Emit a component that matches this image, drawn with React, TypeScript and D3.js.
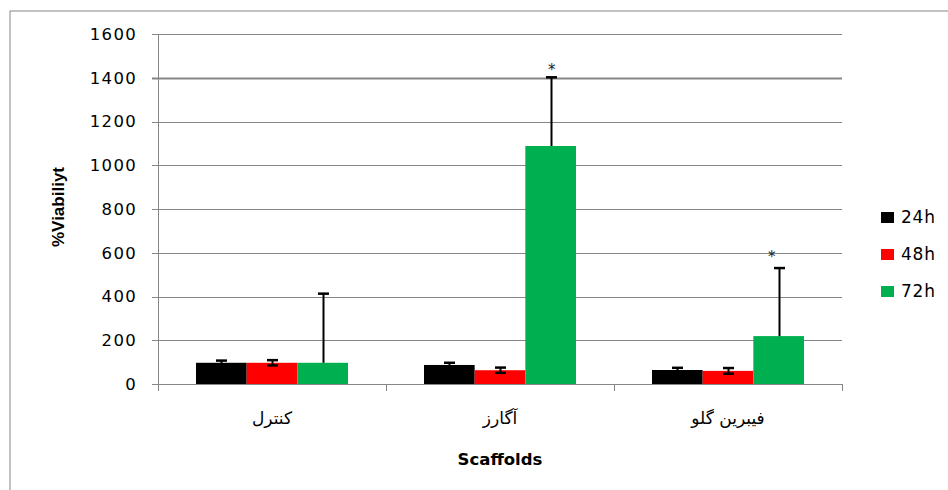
import React from "react";
import * as d3 from "d3";

const categories = ["کنترل", "آگارز", "فیبرین گلو"];
const seriesNames = ["24h", "48h", "72h"];
const seriesColors = ["#000000", "#ff0000", "#00b050"];
const values24 = [97, 87, 64];
const values48 = [97, 63, 60];
const values72 = [97, 1088, 219];
const err24 = [10, 10, 10];
const err48 = [12, 12, 13];
const err72 = [316, 314, 311];
const yTicks = [0, 200, 400, 600, 800, 1000, 1200, 1400, 1600];
const starred = [false, true, true];

const W = 948;
const H = 490;

export default function App() {
  const left = 158, right = 842, top = 34, bottom = 384;
  const y = d3.scaleLinear().domain([0, 1600]).range([bottom, top]);
  const x0 = d3.scaleBand<string>().domain(categories).range([left, right]).paddingInner(0).paddingOuter(0);
  const x1 = d3.scaleBand<string>().domain(seriesNames).range([0, x0.bandwidth()]).paddingOuter(0.75).paddingInner(0);
  const series = [values24, values48, values72];
  const errs = [err24, err48, err72];
  const numFont = "'DejaVu Sans', sans-serif";

  return (
    <svg width={W} height={H} style={{ position: "absolute", left: 0, top: 0, background: "#fff" }}>
      <rect x={10} y={11} width={W} height={H} fill="none" stroke="#868686" strokeWidth={1} />
      {yTicks.map((t) => (
        <g key={t}>
          <line x1={152} x2={right} y1={Math.round(y(t)) + 0.5} y2={Math.round(y(t)) + 0.5}
            stroke="#868686" strokeWidth={t === 1400 ? 2 : 1} />
          <text x={137} y={y(t)} dy="0.36em" textAnchor="end" fontFamily={numFont} fontSize={16.5}
            letterSpacing={1.3} fill="#000">{t}</text>
        </g>
      ))}
      <line x1={left + 0.5} x2={left + 0.5} y1={top} y2={bottom + 7} stroke="#868686" />
      {[...categories.map((c) => x0(c)!), right].map((px, i) => (
        <line key={i} x1={Math.round(px) + 0.5} x2={Math.round(px) + 0.5} y1={bottom} y2={bottom + 7} stroke="#868686" />
      ))}
      {categories.map((c, ci) => (
        <g key={c}>
          {seriesNames.map((s, si) => {
            const bx = x0(c)! + x1(s)!;
            const v = series[si][ci];
            return (
              <rect key={s} x={bx} y={y(v)} width={x1.bandwidth()} height={y(0) - y(v)} fill={seriesColors[si]} />
            );
          })}
          {seriesNames.map((s, si) => {
            const cx = Math.round(x0(c)! + x1(s)! + x1.bandwidth() / 2) + 0.5;
            const v = series[si][ci];
            const e = errs[si][ci];
            const hi = y(v + e);
            const lo = si === 2 ? y(v) : y(v - e);
            return (
              <g key={s} stroke="#000">
                <line x1={cx} x2={cx} y1={hi} y2={lo} strokeWidth={2} />
                <line x1={cx - 5.5} x2={cx + 5.5} y1={hi} y2={hi} strokeWidth={2.5} />
                {si !== 2 && <line x1={cx - 5.5} x2={cx + 5.5} y1={lo} y2={lo} strokeWidth={2.5} />}
              </g>
            );
          })}
          {starred[ci] && (
            <text x={x0(c)! + x1("72h")! + x1.bandwidth() / 2 + (ci === 2 ? -7 : 1)}
              y={y(series[2][ci] + errs[2][ci]) - (ci === 2 ? 6 : 2)} textAnchor="middle"
              fontFamily={numFont} fontSize={15} fill="#222">*</text>
          )}
          <text x={x0(c)! + x0.bandwidth() / 2} y={424} textAnchor="middle" fontFamily="'DejaVu Sans', sans-serif"
            fontSize={17} fill="#000" direction="rtl">{c}</text>
        </g>
      ))}
      <text x={500} y={465} textAnchor="middle" fontFamily="'DejaVu Sans', sans-serif" fontWeight="bold"
        fontSize={16.5} fill="#000">Scaffolds</text>
      <text transform="translate(64,207) rotate(-90)" textAnchor="middle" fontFamily="'Liberation Sans', Arial, sans-serif"
        fontWeight="bold" fontSize={17} fill="#000">%Viabiliyt</text>
      {seriesNames.map((s, i) => (
        <g key={s} transform={`translate(881, ${217 + i * 37})`}>
          <rect x={0} y={-5} width={13} height={11} fill={seriesColors[i]} />
          <text x={20} y={0} dy="0.36em" fontFamily={numFont} fontSize={17} letterSpacing={0.8} fill="#000">{s}</text>
        </g>
      ))}
    </svg>
  );
}
